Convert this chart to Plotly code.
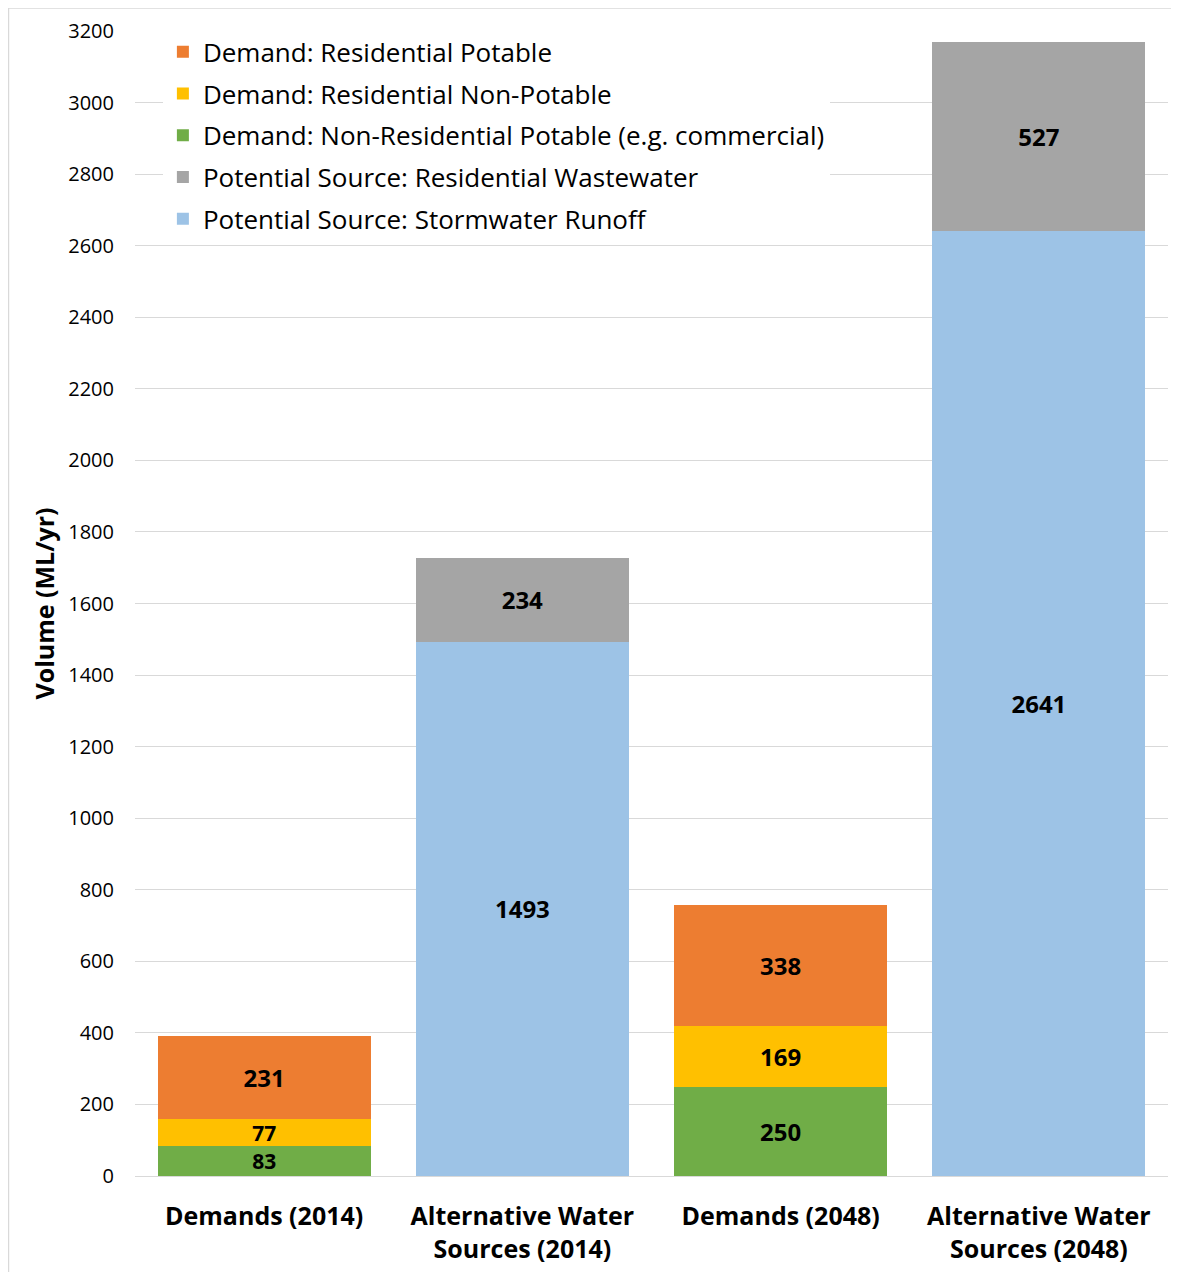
import plotly.graph_objects as go

categories = ["Demands (2014)", "Alternative Water<br>Sources (2014)", "Demands (2048)", "Alternative Water<br>Sources (2048)"]

non_res_potable = [83, None, 250, None]
res_non_potable = [77, None, 169, None]
res_potable = [231, None, 338, None]
stormwater = [None, 1493, None, 2641]
wastewater = [None, 234, None, 527]

y_ticks = list(range(0, 3201, 200))

FONT = "Open Sans"

series = [
    ("Demand: Non-Residential Potable (e.g. commercial)", non_res_potable, "#70AD47", 3),
    ("Demand: Residential Non-Potable", res_non_potable, "#FFC000", 2),
    ("Demand: Residential Potable", res_potable, "#ED7D31", 1),
    ("Potential Source: Stormwater Runoff", stormwater, "#9DC3E6", 5),
    ("Potential Source: Residential Wastewater", wastewater, "#A5A5A5", 4),
]

fig = go.Figure()
for name, vals, color, rank in series:
    # thin segments get a slightly smaller label so stacked labels do not collide
    sizes = [21 if (v is not None and v < 100) else 24 for v in vals]
    fig.add_trace(go.Bar(
        x=categories, y=vals, name=name,
        marker=dict(color=color, line=dict(width=0)),
        text=[("" if v is None else str(v)) for v in vals],
        textposition="inside", insidetextanchor="middle", textangle=0,
        textfont=dict(family=FONT, size=sizes, color="black", weight="bold"),
        legendrank=rank, legendgroup=name,
    ))

fig.update_layout(
    barmode="stack", bargap=0.175,
    width=1171, height=1264,
    margin=dict(l=127, r=11, t=23, b=96, autoexpand=False),
    paper_bgcolor="white", plot_bgcolor="white",
    font=dict(family=FONT, color="black"),
    uniformtext=dict(minsize=20, mode="show"),
    showlegend=True,
    legend=dict(
        x=0.027, y=1.0024, xanchor="left", yanchor="top",
        bgcolor="white", font=dict(family=FONT, size=26, color="black"),
        traceorder="grouped", tracegroupgap=5,
        itemwidth=30,
    ),
    xaxis=dict(
        range=[-0.5, 3.5], showgrid=False, showline=False, zeroline=False,
        tickfont=dict(family=FONT, size=25, color="black", weight="bold"),
        ticks="", ticklabelstandoff=23, automargin=False,
    ),
    yaxis=dict(
        range=[0, 3200], tickvals=y_ticks, showgrid=True, gridcolor="#D9D9D9",
        gridwidth=1, zeroline=True, zerolinecolor="#D9D9D9", zerolinewidth=1,
        showline=False, ticks="", ticklabelstandoff=20, automargin=False,
        tickfont=dict(family=FONT, size=20, color="black"),
        title=dict(text="<b>Volume (ML/yr)</b>", font=dict(family=FONT, size=25, color="black"), standoff=6),
    ),
    shapes=[dict(type="rect", xref="paper", yref="paper", x0=-0.1225, x1=1.02, y0=-0.2, y1=1.0201,
                 line=dict(color="#D9D9D9", width=1.5), fillcolor="rgba(0,0,0,0)", layer="below")],
)

fig.write_html("out.html")
